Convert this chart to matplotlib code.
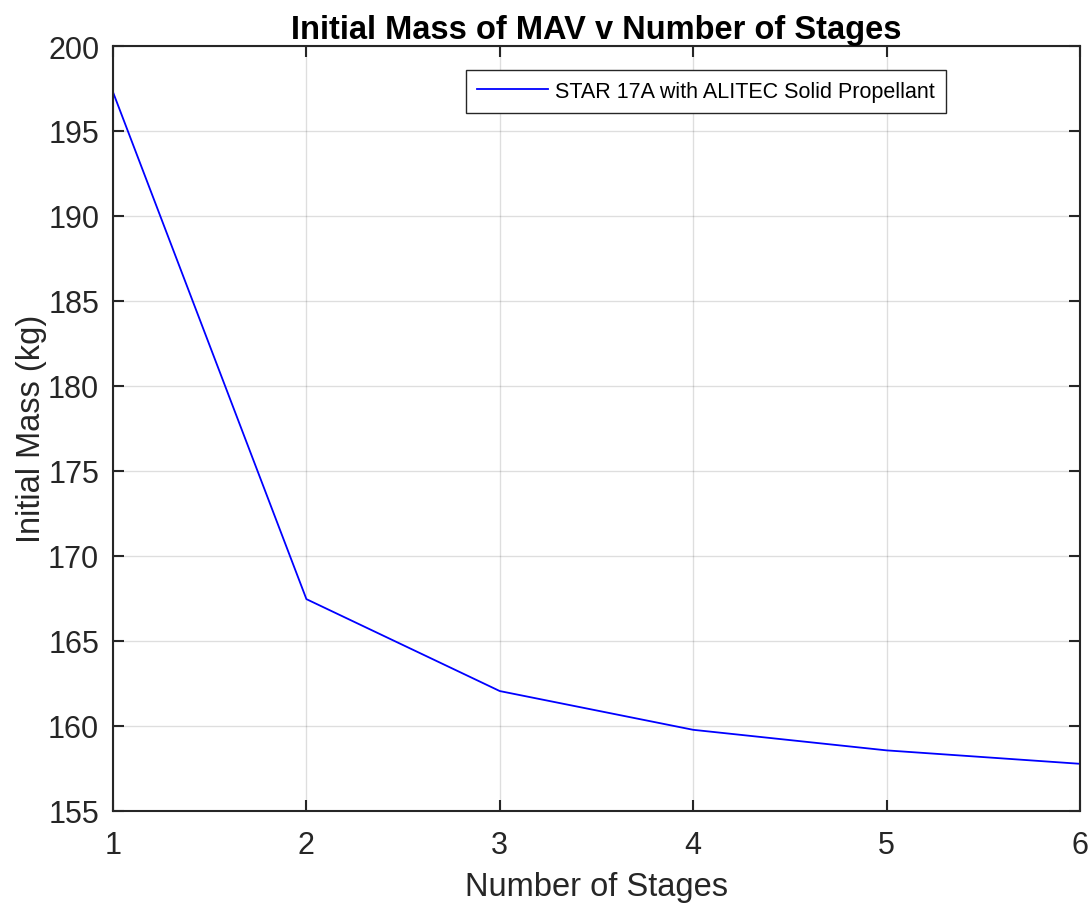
import matplotlib
matplotlib.use('Agg')
import matplotlib.pyplot as plt

# data
stages = [1, 2, 3, 4, 5, 6]
mass = [197.28, 167.45, 162.04, 159.76, 158.55, 157.76]
yticks = [155, 160, 165, 170, 175, 180, 185, 190, 195, 200]

plt.rcParams['font.family'] = ['Liberation Sans', 'DejaVu Sans']

fig = plt.figure(figsize=(10.89, 9.04), dpi=100)
ax = fig.add_axes([0.1038, 0.1021, 0.8879, 0.8459])

ax.plot(stages, mass, color='#0000FF', linewidth=1.3,
        label='STAR 17A with ALITEC Solid Propellant')

ax.set_xlim(1, 6)
ax.set_ylim(155, 200)
ax.set_xticks(stages)
ax.set_yticks(yticks)
ax.grid(True, color='#262626', alpha=0.15, linewidth=1.0)

ax.tick_params(direction='in', length=8, width=1.5, top=True, right=True,
               labelsize=22, colors='#262626')
ax.tick_params(axis='x', pad=14)
ax.tick_params(axis='y', pad=10)
for s in ax.spines.values():
    s.set_color('#262626')
    s.set_linewidth(1.5)

ax.set_xlabel('Number of Stages', fontsize=23.5, color='#262626', labelpad=8)
ax.set_ylabel('Initial Mass (kg)', fontsize=23.5, color='#262626', labelpad=1)
ax.set_title('Initial Mass of MAV v Number of Stages', fontsize=23.5,
             fontweight='bold', pad=6)

leg = ax.legend(loc='upper right', bbox_to_anchor=(946 / 1089, 1 - 71 / 904),
                bbox_transform=fig.transFigure, fontsize=15.5, fancybox=False,
                edgecolor='#262626', framealpha=1, borderaxespad=0,
                handlelength=3.3, borderpad=0.5, handletextpad=0.35)
leg.get_frame().set_linewidth(1.0)

fig.savefig('out.png', dpi=100)
